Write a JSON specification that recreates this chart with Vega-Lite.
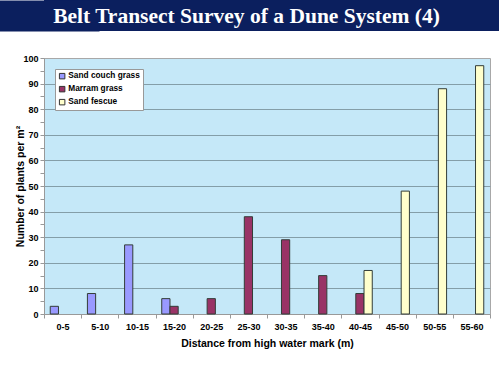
{
  "$schema": "https://vega.github.io/schema/vega-lite/v6.json",
  "padding": {"left": 15, "top": 0, "right": 0, "bottom": 0},
  "background": "white",
  "spacing": 22,
  "config": {
    "font": "Liberation Sans"
  },
  "vconcat": [
    {
      "width": 455,
      "height": 31,
      "view": {"fill": "#0b1f5e", "stroke": null},
      "data": {"values": [{"band": "Belt Transect Survey of a Dune System (4)"}]},
      "mark": {"type": "text", "font": "Liberation Serif", "fontWeight": "bold", "fontSize": 21.5, "color": "white", "baseline": "middle", "dx": -25, "dy": 1},
      "encoding": {
        "text": {"field": "band", "type": "nominal"},
        "y": {
          "field": "band",
          "type": "nominal",
          "axis": {
            "title": null,
            "labels": false,
            "ticks": false,
            "grid": false,
            "domain": true,
            "domainColor": "#0b1f5e",
            "domainWidth": 110,
            "domainCap": "butt"
          }
        }
      }
    },
    {
      "width": 446,
      "height": 256,
      "view": {"fill": "#c5e8f8", "stroke": "#a8a8a8", "strokeWidth": 1},
      "data": {
        "values": [
          {"distance": "0-5", "species": "Sand couch grass", "count": 3},
          {"distance": "5-10", "species": "Sand couch grass", "count": 8},
          {"distance": "10-15", "species": "Sand couch grass", "count": 27},
          {"distance": "15-20", "species": "Sand couch grass", "count": 6},
          {"distance": "15-20", "species": "Marram grass", "count": 3},
          {"distance": "20-25", "species": "Marram grass", "count": 6},
          {"distance": "25-30", "species": "Marram grass", "count": 38},
          {"distance": "30-35", "species": "Marram grass", "count": 29},
          {"distance": "35-40", "species": "Marram grass", "count": 15},
          {"distance": "40-45", "species": "Marram grass", "count": 8},
          {"distance": "40-45", "species": "Sand fescue", "count": 17},
          {"distance": "45-50", "species": "Sand fescue", "count": 48},
          {"distance": "50-55", "species": "Sand fescue", "count": 88},
          {"distance": "55-60", "species": "Sand fescue", "count": 97}
        ]
      },
      "mark": {"type": "bar", "stroke": "#333d38", "strokeWidth": 1},
      "encoding": {
        "x": {
          "field": "distance",
          "type": "nominal",
          "sort": ["0-5", "5-10", "10-15", "15-20", "20-25", "25-30", "30-35", "35-40", "40-45", "45-50", "50-55", "55-60"],
          "scale": {"paddingInner": 0, "paddingOuter": 0},
          "axis": {
            "title": "Distance from high water mark (m)",
            "titleFont": "Liberation Sans",
            "titleFontSize": 10.5,
            "titleFontWeight": "bold",
            "titleColor": "#000000",
            "titlePadding": 7,
            "labelAngle": 0,
            "labelFont": "Liberation Sans",
            "labelFontSize": 9,
            "labelFontWeight": "bold",
            "labelColor": "#000000",
            "labelPadding": 4,
            "tickBand": "extent",
            "tickSize": 4,
            "tickColor": "#999999",
            "domainColor": "#999999",
            "grid": false
          }
        },
        "xOffset": {
          "field": "species",
          "type": "nominal",
          "scale": {"domain": ["Sand couch grass", "Marram grass", "Sand fescue"], "paddingInner": 0, "paddingOuter": 0.76}
        },
        "y": {
          "field": "count",
          "type": "quantitative",
          "scale": {"domain": [0, 100], "nice": false},
          "axis": {
            "title": "Number of plants per m²",
            "titleFont": "Liberation Sans",
            "titleFontSize": 10.5,
            "titleFontWeight": "bold",
            "titleColor": "#000000",
            "titlePadding": -3,
            "values": [0, 5, 10, 15, 20, 25, 30, 35, 40, 45, 50, 55, 60, 65, 70, 75, 80, 85, 90, 95, 100],
            "labelExpr": "datum.value % 10 === 0 ? datum.label : ''",
            "labelFont": "Liberation Sans",
            "labelFontSize": 9,
            "labelFontWeight": "bold",
            "labelColor": "#000000",
            "labelPadding": 2,
            "tickSize": 4,
            "tickColor": "#999999",
            "domainColor": "#999999",
            "grid": true,
            "gridColor": "#849ea8",
            "gridOpacity": {"condition": {"test": "datum.value % 10 !== 0 || datum.value === 0 || datum.value === 100", "value": 0}, "value": 1}
          }
        },
        "color": {
          "field": "species",
          "type": "nominal",
          "scale": {"domain": ["Sand couch grass", "Marram grass", "Sand fescue"], "range": ["#9999ff", "#993366", "#ffffcc"]},
          "legend": {
            "title": null,
            "orient": "none",
            "legendX": 11,
            "legendY": 69,
            "fillColor": "white",
            "strokeColor": "#999999",
            "padding": 3,
            "symbolType": "square",
            "symbolSize": 30,
            "symbolStrokeColor": "#333333",
            "symbolStrokeWidth": 1,
            "labelFont": "Liberation Sans",
            "labelFontSize": 8.3,
            "labelFontWeight": "bold",
            "labelColor": "#000000",
            "labelOffset": 2,
            "rowPadding": 3
          }
        }
      }
    }
  ]
}
